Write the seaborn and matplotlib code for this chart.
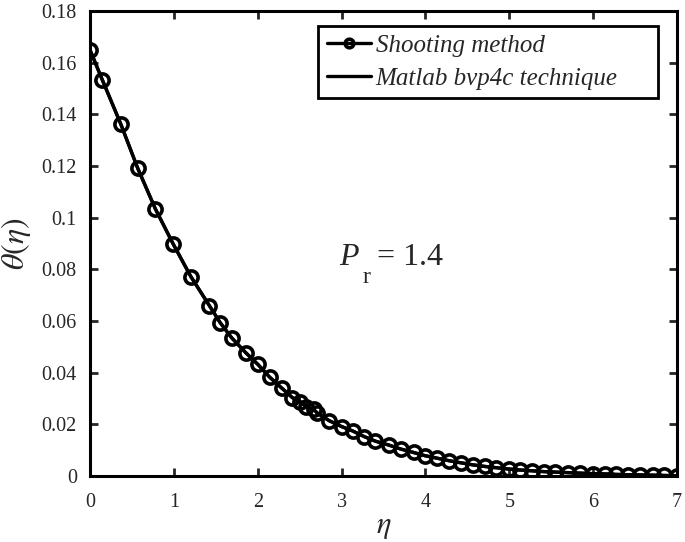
import numpy as np
import pandas as pd
import matplotlib
matplotlib.use("Agg")
import matplotlib.pyplot as plt
import seaborn as sns

# temperature profile theta(eta)
eta = [0.0, 0.147, 0.366, 0.569, 0.779, 0.990, 1.202, 1.424, 1.551, 1.691,
       1.858, 2.001, 2.144, 2.287, 2.414, 2.506, 2.578, 2.665, 2.712, 2.852,
       3.003, 3.134, 3.273, 3.401, 3.560, 3.708, 3.858, 3.989, 4.137, 4.284,
       4.423, 4.567, 4.705, 4.845, 4.992, 5.131, 5.275, 5.409, 5.549, 5.696,
       5.839, 5.994, 6.137, 6.273, 6.412, 6.563, 6.714, 6.841, 7.0]
theta = [0.1649, 0.1533, 0.1363, 0.1191, 0.1034, 0.0899, 0.0772, 0.0659, 0.0594, 0.0534,
         0.0477, 0.0432, 0.0382, 0.0340, 0.0303, 0.0288, 0.0268, 0.0258, 0.0243, 0.0214,
         0.0191, 0.0174, 0.0152, 0.0135, 0.0120, 0.0104, 0.0091, 0.0079, 0.0069, 0.0059,
         0.0051, 0.0043, 0.0037, 0.0032, 0.0027, 0.0023, 0.0020, 0.0017, 0.0015, 0.0013,
         0.0011, 0.0009, 0.0008, 0.0006, 0.0005, 0.0004, 0.0003, 0.0002, 0.0001]

x_ticks = [0, 1, 2, 3, 4, 5, 6, 7]
y_ticks = [0, 0.02, 0.04, 0.06, 0.08, 0.1, 0.12, 0.14, 0.16, 0.18]
y_tick_labels = ["0", "0.02", "0.04", "0.06", "0.08", "0.1", "0.12", "0.14", "0.16", "0.18"]

df = pd.DataFrame({"eta": eta, "theta": theta})

sns.set_style("ticks")
plt.rcParams["font.family"] = ["Liberation Serif", "DejaVu Serif"]
plt.rcParams["mathtext.fontset"] = "stix"

fig = plt.figure(figsize=(6.85, 5.42), dpi=100)
ax = fig.add_axes([0.1314, 0.1218, 0.857, 0.858])

# bvp4c solution (solid line)
sns.lineplot(data=df, x="eta", y="theta", ax=ax, color="black", linewidth=2.4,
             label="Matlab bvp4c technique", legend=False)
# shooting method (line + hollow circles)
sns.lineplot(data=df, x="eta", y="theta", ax=ax, color="black", linewidth=2.4,
             marker="o", markersize=9.5, markeredgewidth=2.6,
             markerfacecolor="none", markeredgecolor="black",
             label="Shooting method", legend=False)

ax.set_xlim(0, 7)
ax.set_ylim(0, 0.18)
ax.set_xticks(x_ticks)
ax.set_xticklabels([str(t) for t in x_ticks])
ax.set_yticks(y_ticks)
ax.set_yticklabels(y_tick_labels)
ax.tick_params(direction="in", top=True, right=True, length=6, width=2,
               labelsize=14.5)
ax.tick_params(axis="x", pad=12)
ax.tick_params(axis="y", pad=9.5)
for sp in ax.spines.values():
    sp.set_linewidth(2.2)
    sp.set_color("black")

ax.set_xlabel(r"$\eta$", fontsize=22, labelpad=0)
ax.set_ylabel(r"$\theta(\eta)$", fontsize=23, labelpad=6)

# P_r = 1.4 annotation
ax.text(2.97, 0.0817, "P", fontsize=23, style="italic", ha="left", va="baseline")
ax.text(3.25, 0.0747, "r", fontsize=17, ha="left", va="baseline")
ax.text(3.42, 0.0817, "= 1.4", fontsize=23, ha="left", va="baseline")

handles, labels = ax.get_legend_handles_labels()
order = [labels.index("Shooting method"), labels.index("Matlab bvp4c technique")]
leg = ax.legend([handles[i] for i in order], [labels[i] for i in order],
                loc="upper left", bbox_to_anchor=(0.3884, 0.0, 0.5792, 0.9677),
                mode="expand",
                prop={"style": "italic", "size": 18}, frameon=True, fancybox=False,
                edgecolor="black", handlelength=1.75, handletextpad=0.2,
                borderpad=0.35, labelspacing=0.4, borderaxespad=0, markerscale=0.65)
leg.get_frame().set_linewidth(2)
leg.get_frame().set_alpha(1)

fig.savefig("out.png", dpi=100)
